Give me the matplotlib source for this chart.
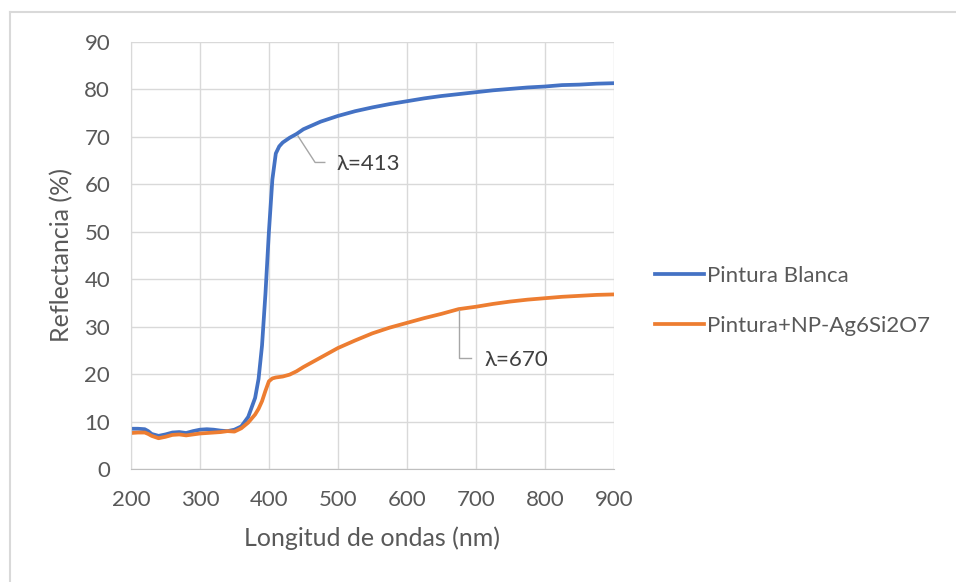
import matplotlib.pyplot as plt
from matplotlib.lines import Line2D

plt.rcParams['font.family'] = ['Lato', 'DejaVu Sans']

wl = [200, 210, 220, 225, 230, 240, 250, 260, 270, 280, 290, 300, 310, 320, 330, 340,
      350, 360, 370, 380, 385, 390, 395, 400, 405, 410, 415, 420, 430, 440, 450, 475,
      500, 525, 550, 575, 600, 625, 650, 675, 700, 725, 750, 775, 800, 825, 850, 875, 900]
blanca = [8.5, 8.5, 8.4, 8.0, 7.4, 7.0, 7.3, 7.7, 7.8, 7.6, 8.0, 8.3, 8.4, 8.3, 8.1, 8.0,
          8.3, 9.0, 11.0, 15.0, 19.0, 26.0, 37.0, 50.0, 61.0, 66.5, 68.0, 68.8, 69.8, 70.6, 71.6, 73.2,
          74.4, 75.4, 76.2, 76.9, 77.5, 78.1, 78.6, 79.0, 79.4, 79.8, 80.1, 80.4, 80.6, 80.9, 81.0, 81.2, 81.3]
np_ag = [7.6, 7.7, 7.7, 7.4, 7.0, 6.5, 6.8, 7.2, 7.3, 7.1, 7.3, 7.5, 7.6, 7.7, 7.8, 8.0,
         7.9, 8.6, 9.8, 11.5, 12.7, 14.3, 16.5, 18.5, 19.1, 19.3, 19.4, 19.5, 19.9, 20.6, 21.5, 23.5,
         25.5, 27.1, 28.6, 29.8, 30.8, 31.8, 32.7, 33.7, 34.2, 34.8, 35.3, 35.7, 36.0, 36.3, 36.5, 36.7, 36.8]

fig = plt.figure(figsize=(9.56, 5.82), dpi=100)
ax = fig.add_axes([0.137, 0.194, 0.505, 0.734])

ax.plot(wl, blanca, color='#4472C4', lw=2.7, label='Pintura Blanca')
ax.plot(wl, np_ag, color='#ED7D31', lw=2.7, label='Pintura+NP-Ag6Si2O7')

ax.set_xlim(200, 900)
ax.set_ylim(0, 90)
ax.set_xticks(range(200, 901, 100))
ax.set_yticks(range(0, 91, 10))
ax.grid(color='#d9d9d9', lw=1)
ax.set_axisbelow(True)
for s in ['top', 'right']:
    ax.spines[s].set_visible(False)
ax.spines['left'].set_color('#d9d9d9')
ax.spines['bottom'].set_color('#bfbfbf')
ax.tick_params(length=0, labelsize=16, colors='#595959', pad=15)
ax.set_xlabel('Longitud de ondas (nm)', fontsize=18, color='#595959', labelpad=12)
ax.set_ylabel('Reflectancia (%)', fontsize=18, color='#595959', labelpad=8)

# etiquetas con linea guia
ax.plot([442, 467, 481], [70.2, 64.6, 64.6], color='#a6a6a6', lw=1)
ax.text(498, 64.2, 'λ=413', fontsize=16, color='#404040', va='center')
ax.plot([675, 675, 693], [33.6, 23.3, 23.3], color='#a6a6a6', lw=1)
ax.text(713, 23.0, 'λ=670', fontsize=16, color='#404040', va='center')

ax.legend(loc='center left', bbox_to_anchor=(1.085, 0.393), frameon=False, fontsize=16,
          labelcolor='#595959', handlelength=2.2, handletextpad=0.15, labelspacing=1.35,
          borderpad=0, borderaxespad=0)

fig.lines.append(Line2D([10, 956], [570, 570], transform=None, color='#d9d9d9', lw=1.5))
fig.lines.append(Line2D([10, 10], [0, 570], transform=None, color='#d9d9d9', lw=1.5))
fig.savefig('out.png')
